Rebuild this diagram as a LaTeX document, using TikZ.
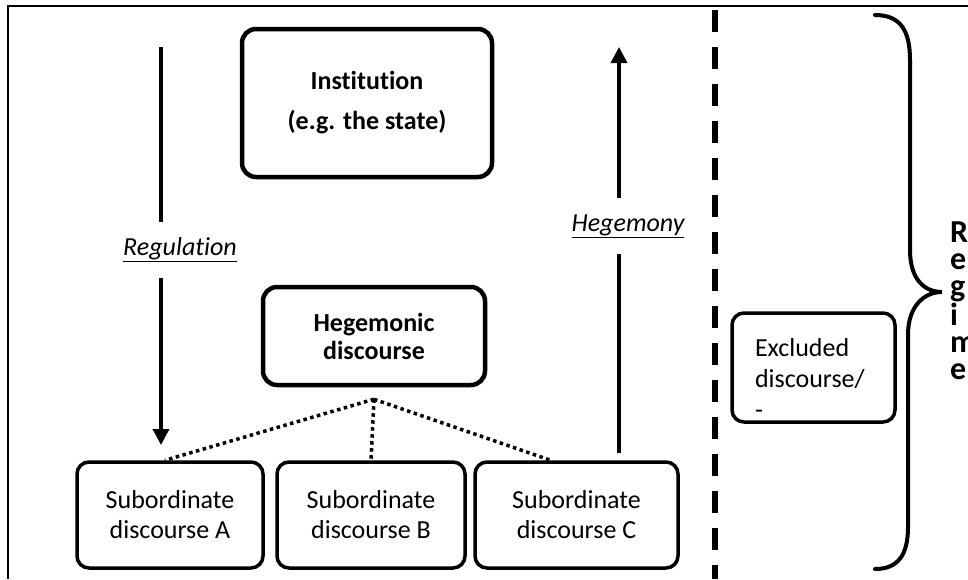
\documentclass[tikz,border=0pt]{standalone}
\usepackage{fontspec}
\setmainfont{Carlito}[Ligatures=NoCommon]
\usetikzlibrary{arrows.meta}
\begin{document}
\begin{tikzpicture}[x=1pt,y=-1pt,
  bigbox/.style={draw, line width=4.5pt, rounded corners=14pt, align=center, inner sep=0pt,
    font=\bfseries\fontsize{26}{40}\selectfont},
  subbox/.style={draw, line width=3.5pt, rounded corners=12pt, align=center, inner sep=0pt,
    minimum height=106pt, font=\fontsize{26}{30}\selectfont},
  flow/.style={line width=3.5pt, -{Triangle[length=16pt,width=16pt]}},
  lbl/.style={fill=white, inner xsep=2pt, inner ysep=16pt, font=\itshape\fontsize{26}{30}\selectfont},
  dotline/.style={line width=3.5pt, dash pattern=on 3.5pt off 3.5pt},
  sep/.style={line width=6pt, dash pattern=on 22pt off 15pt},
  brace/.style={line width=4pt, line cap=round}]
\useasboundingbox (0,0) rectangle (968,579);
% frame
\draw[line width=2.5pt] (8,579) -- (8,6) -- (968,6);
% boxes
\node[bigbox, minimum width=250pt, minimum height=148pt] (inst) at (367,103) {Institution\\(e.g. the state)};
\node[bigbox, minimum width=222pt, minimum height=98pt, font=\bfseries\fontsize{26}{28}\selectfont] (heg) at (374,336) {Hegemonic\\discourse};
\node[subbox, minimum width=186pt] (subA) at (170,515) {Subordinate\\discourse A};
\node[subbox, minimum width=188pt] (subB) at (371,515) {Subordinate\\discourse B};
\node[subbox, minimum width=203pt] (subC) at (576.5,515) {Subordinate\\discourse C};
\node[draw, line width=3.5pt, rounded corners=12pt, minimum width=163pt, minimum height=109pt] (excl) at (813.5,367.5) {};
\node[align=left, text width=117pt, inner sep=0pt, font=\fontsize{26}{31}\selectfont] (excltext) at (813.5,378) {Excluded\\discourse/\\-};
% arrows
\coordinate (r1) at (161,47);
\coordinate (r2) at (161,445);
\coordinate (h1) at (619,453);
\coordinate (h2) at (619,47);
\draw[flow] (r1) -- (r2);
\draw[flow] (h1) -- (h2);
\node[lbl] (reglab) at (180,250) {\underline{Regulation}};
\node[lbl] (hegemlab) at (628,226) {\underline{Hegemony}};
% dotted links
\coordinate (apex) at ([yshift=-12pt]heg.south);
\draw[dotline] (apex) -- ([xshift=-5pt]subA.north);
\draw[dotline] (apex) -- (subB.north);
\draw[dotline] (apex) -- ([xshift=-26pt]subC.north);
% separator
\coordinate (s1) at (715,10);
\coordinate (s2) at (715,579);
\draw[sep] (s1) -- (s2);
% brace
\draw[brace] (875,15) .. controls (900,15) and (910,30) .. (910,60) -- (910,250)
  .. controls (910,280) and (925,292) .. (942,292)
  .. controls (925,292) and (908,305) .. (908,335) -- (908,527)
  .. controls (908,555) and (898,569) .. (875,569);
\node[anchor=north west, align=left, inner sep=0pt, font=\bfseries\fontsize{32}{27}\selectfont] (regime) at (950,222) {R\\e\\g\\i\\m\\e};
\end{tikzpicture}
\end{document}
